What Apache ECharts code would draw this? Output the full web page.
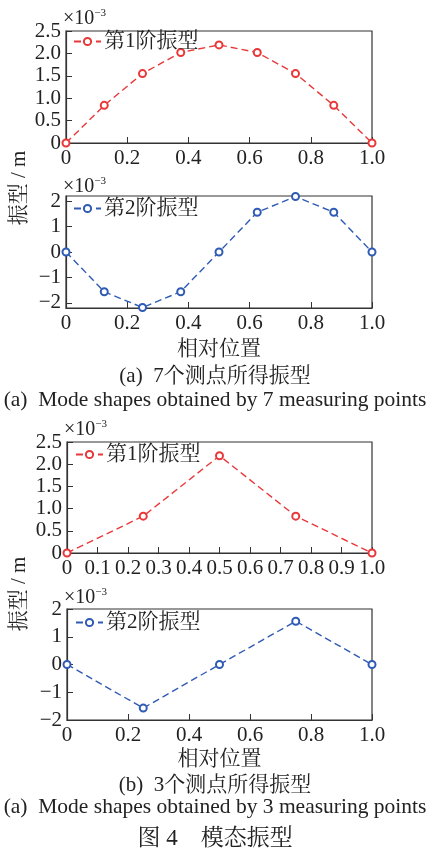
<!DOCTYPE html>
<html><head><meta charset="utf-8">
<script src="https://cdn.jsdelivr.net/npm/echarts@6/dist/echarts.min.js"></script>
<style>html,body{margin:0;padding:0;background:#fff}#c{width:430px;height:855px}</style>
</head><body><div id="c"></div>
<script>
// ---- data ----
const xPos7 = [0, 0.125, 0.25, 0.375, 0.5, 0.625, 0.75, 0.875, 1.0];
const mode1Seven = [0, 0.84, 1.55, 2.02, 2.19, 2.02, 1.55, 0.84, 0];
const mode2Seven = [0, -1.56, -2.18, -1.56, 0, 1.56, 2.18, 1.56, 0];
const xPos3 = [0, 0.25, 0.5, 0.75, 1.0];
const mode1Three = [0, 0.83, 2.19, 0.83, 0];
const mode2Three = [0, -1.57, 0, 1.56, 0];
const mode2TicksA = [-2, -1, 0, 1, 2];
const seriesNames = ['第1阶振型', '第2阶振型'];
const captions = ['(a)  7个测点所得振型', '(a)  Mode shapes obtained by 7 measuring points',
  '(b)  3个测点所得振型', '(a)  Mode shapes obtained by 3 measuring points', '图 4　模态振型'];
const xName = '相对位置';
const yName = '振型 / m';

const FONT = '"Liberation Serif", "Times New Roman", "Noto Serif CJK SC", "Noto Sans CJK SC", serif';
const RED = '#e8383a', BLUE = '#2f5bb5', AX = '#333';
const zip = (xs, ys) => xs.map((x, i) => [x, ys[i]]);
const fmt1 = v => (Math.abs(v) < 1e-9 ? '0' : v.toFixed(1));
const fmtInt = v => (v < 0 ? '\u2212' + Math.abs(v) : String(v));

const grids = [
  {left: 66, right: 58, top: 31, height: 112},
  {left: 66, right: 58, top: 196, height: 112},
  {left: 67, right: 58, top: 442, height: 111},
  {left: 67, right: 58, top: 609, height: 111}
].map(g => Object.assign(g, {show: true, borderColor: AX, borderWidth: 1.2, containLabel: false}));

const FS = 21;
function xAxis(i, interval, named, gap) {
  return {
    type: 'value', gridIndex: i, min: 0, max: 1, interval: interval,
    axisLine: {show: true, onZero: false, lineStyle: {color: AX, width: 1.2}},
    axisTick: {show: true, inside: true, length: 6, lineStyle: {color: AX}},
    splitLine: {show: false},
    axisLabel: {fontFamily: FONT, fontSize: FS, color: '#222', margin: 5,
      formatter: v => fmt1(v)},
    name: named ? xName : '', nameLocation: 'middle', nameGap: gap || 31, nameMoveOverlap: false,
    nameTextStyle: {fontFamily: FONT, fontSize: FS, color: '#222'}
  };
}
const expName = '{a|×10}{b|−3}';
const expRich = {a: {fontFamily: FONT, fontSize: 20, color: '#222'},
                 b: {fontFamily: FONT, fontSize: 11, color: '#222', verticalAlign: 'top', padding: [0, 0, 10, 0]}};
function yAxis(i, cfg) {
  return Object.assign({
    type: 'value', gridIndex: i,
    axisLine: {show: true, onZero: false, lineStyle: {color: AX, width: 1.2}},
    axisTick: {show: true, inside: true, length: 6, lineStyle: {color: AX}},
    splitLine: {show: false},
    name: expName, nameLocation: 'end', nameGap: 2, nameMoveOverlap: false,
    nameTextStyle: {align: 'left', rich: expRich, padding: [0, 0, 0, -3]}
  }, cfg);
}
const labelBase = {fontFamily: FONT, fontSize: FS, color: '#222', margin: 5};

const yAxes = [
  yAxis(0, {min: 0, max: 2.5, interval: 0.5, axisLabel: Object.assign({formatter: fmt1}, labelBase)}),
  yAxis(1, {min: -2.2, max: 2.2, nameGap: -1,
    axisLabel: Object.assign({customValues: mode2TicksA, formatter: fmtInt}, labelBase),
    axisTick: {show: true, inside: true, length: 6, lineStyle: {color: AX}, customValues: mode2TicksA}}),
  yAxis(2, {min: 0, max: 2.5, interval: 0.5, axisLabel: Object.assign({formatter: fmt1}, labelBase)}),
  yAxis(3, {min: -2, max: 2, interval: 1, nameGap: 1, axisLabel: Object.assign({formatter: fmtInt}, labelBase)})
];

function lineSeries(i, name, data, color) {
  return {
    type: 'line', name: name, xAxisIndex: i, yAxisIndex: i, data: data,
    symbol: 'emptyCircle', symbolSize: 7, showSymbol: true,
    lineStyle: {color: color, width: 1.4, type: [7, 4]},
    itemStyle: {color: color, borderColor: color, borderWidth: 1.2},
    animation: false
  };
}

const legendTops = [31, 198, 444, 612];
const legendNames = [seriesNames[0], seriesNames[1], seriesNames[0], seriesNames[1]];
const legends = legendTops.map((t, i) => ({
  data: [legendNames[i]], left: 73 + (i >= 2 ? 2 : 0), top: t, itemWidth: 27, itemHeight: 9, itemGap: 4,
  textStyle: {fontFamily: FONT, fontSize: FS, color: '#222', padding: [0, 0, 0, -2]},
  selectedMode: false, orient: 'horizontal', padding: 0
}));

const capTops = [361, 385, 770, 792, 822];
const capSizes = [21, 21.5, 21, 21.5, 23];
const titles = captions.map((c, i) => ({
  text: c, left: 'center', top: capTops[i],
  textStyle: {fontFamily: FONT, fontSize: capSizes[i], fontWeight: 'normal', color: '#222'}
}));

const chart = echarts.init(document.getElementById('c'), null, {renderer: 'canvas'});
chart.setOption({
  backgroundColor: '#fff',
  animation: false,
  grid: grids,
  xAxis: [xAxis(0, 0.2, false), xAxis(1, 0.2, true, 31), xAxis(2, 0.1, false), xAxis(3, 0.2, true, 29)],
  yAxis: yAxes,
  legend: legends,
  title: titles,
  series: [
    lineSeries(0, seriesNames[0], zip(xPos7, mode1Seven), RED),
    lineSeries(1, seriesNames[1], zip(xPos7, mode2Seven), BLUE),
    lineSeries(2, seriesNames[0], zip(xPos3, mode1Three), RED),
    lineSeries(3, seriesNames[1], zip(xPos3, mode2Three), BLUE)
  ],
  graphic: [
    {type: 'text', x: 19, y: 188, rotation: Math.PI / 2,
     style: {text: yName, font: FS + 'px ' + FONT, fill: '#222', align: 'center', verticalAlign: 'middle'}},
    {type: 'text', x: 19, y: 594, rotation: Math.PI / 2,
     style: {text: yName, font: FS + 'px ' + FONT, fill: '#222', align: 'center', verticalAlign: 'middle'}}
  ]
});
</script></body></html>
